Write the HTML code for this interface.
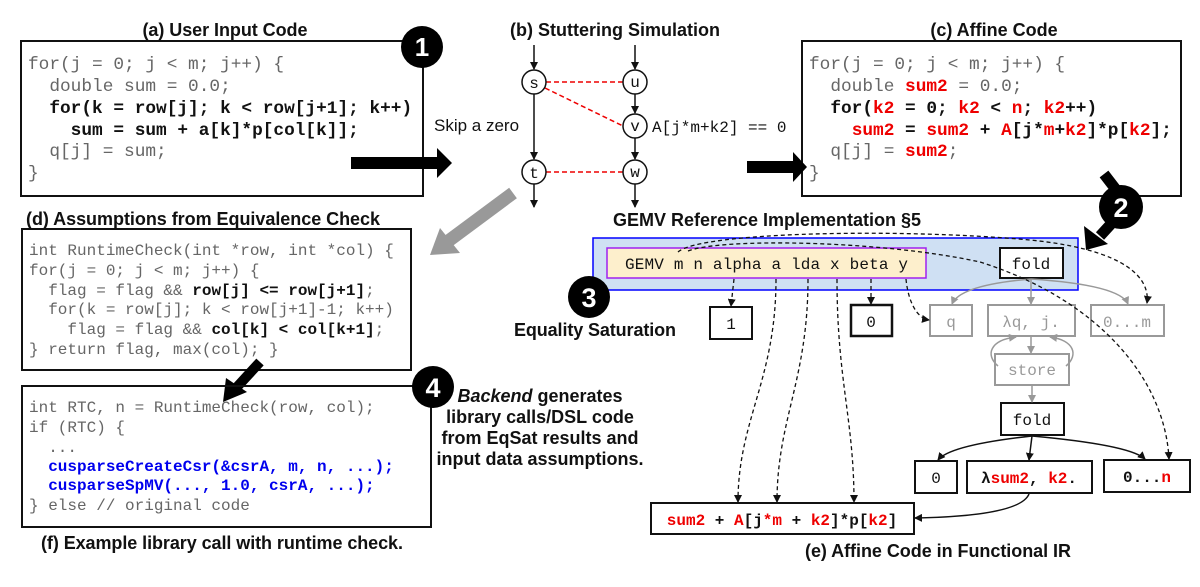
<!DOCTYPE html>
<html><head><meta charset="utf-8"><style>
body{margin:0;background:#fff}
svg{display:block}
text{white-space:pre}
.t{font-family:"Liberation Sans",sans-serif;font-weight:bold;font-size:18px;fill:#111}
.m{font-family:"Liberation Mono",monospace;fill:#666}
.b{fill:#111;font-weight:bold}
.r{fill:#e00;font-weight:bold}
.bl{fill:#00e;font-weight:bold}
.g{fill:#999}
</style></head><body>
<svg width="1200" height="587" viewBox="0 0 1200 587" xmlns="http://www.w3.org/2000/svg">
<defs>
<marker id="ah" markerWidth="8" markerHeight="8" refX="7" refY="4" orient="auto" markerUnits="userSpaceOnUse"><path d="M0,0 L8,4 L0,8 z" fill="#111"/></marker>
<marker id="ag" markerWidth="8" markerHeight="8" refX="7" refY="4" orient="auto" markerUnits="userSpaceOnUse"><path d="M0,0 L8,4 L0,8 z" fill="#999"/></marker>
</defs>

<!-- (a) -->
<text class="t" x="225" y="36" text-anchor="middle" textLength="165">(a) User Input Code</text>
<rect x="21" y="41" width="402" height="155" fill="none" stroke="#111" stroke-width="2"/>
<g class="m" font-size="17.8px">
<text x="28" y="69">for(j = 0; j &lt; m; j++) {</text>
<text x="28" y="91">  double sum = 0.0;</text>
<text x="28" y="113" class="b">  for(k = row[j]; k &lt; row[j+1]; k++)</text>
<text x="28" y="135" class="b">    sum = sum + a[k]*p[col[k]];</text>
<text x="28" y="156">  q[j] = sum;</text>
<text x="28" y="178">}</text>
</g>
<circle cx="422" cy="47" r="21" fill="#000"/>
<text x="422" y="56" text-anchor="middle" font-family="Liberation Sans" font-weight="bold" font-size="26" fill="#fff">1</text>
<polygon points="351,157 437,157 437,148 452,163 437,178 437,169 351,169" fill="#000"/>
<text x="434" y="131" font-family="Liberation Sans" font-size="17" fill="#111">Skip a zero</text>

<!-- (b) -->
<text class="t" x="615" y="36" text-anchor="middle">(b) Stuttering Simulation</text>
<g stroke="#111" stroke-width="1.5" fill="none">
<line x1="534" y1="45" x2="534" y2="69" marker-end="url(#ah)"/>
<line x1="534" y1="94" x2="534" y2="159" marker-end="url(#ah)"/>
<line x1="534" y1="184" x2="534" y2="207" marker-end="url(#ah)"/>
<line x1="635" y1="45" x2="635" y2="69" marker-end="url(#ah)"/>
<line x1="635" y1="94" x2="635" y2="113" marker-end="url(#ah)"/>
<line x1="635" y1="138" x2="635" y2="159" marker-end="url(#ah)"/>
<line x1="635" y1="184" x2="635" y2="207" marker-end="url(#ah)"/>
</g>
<g stroke="#e00" stroke-width="1.5" stroke-dasharray="5,3">
<line x1="546" y1="82" x2="623" y2="82"/>
<line x1="546" y1="172" x2="623" y2="172"/>
<line x1="545" y1="88" x2="623" y2="126"/>
</g>
<g fill="#fff" stroke="#111" stroke-width="1.5">
<circle cx="534" cy="82" r="12"/><circle cx="534" cy="172" r="12"/>
<circle cx="635" cy="82" r="12"/><circle cx="635" cy="126" r="12"/><circle cx="635" cy="172" r="12"/>
</g>
<g font-family="Liberation Mono" font-size="16" fill="#111" text-anchor="middle">
<text x="534" y="88">s</text><text x="534" y="178">t</text><text x="635" y="87">u</text><text x="635" y="131">v</text><text x="635" y="177">w</text>
</g>
<text x="652" y="132" font-family="Liberation Mono" font-size="16" fill="#111">A[j*m+k2] == 0</text>

<!-- (c) -->
<text class="t" x="994" y="36" text-anchor="middle">(c) Affine Code</text>
<rect x="802" y="41" width="379" height="155" fill="none" stroke="#111" stroke-width="2"/>
<polygon points="747,161 793,161 793,152 807,167 793,182 793,173 747,173" fill="#000"/>
<g class="m" font-size="17.8px">
<text x="809" y="69">for(j = 0; j &lt; m; j++) {</text>
<text x="809" y="91">  double <tspan class="r">sum2</tspan> = 0.0;</text>
<text x="809" y="113" class="b">  for(<tspan class="r">k2</tspan> = 0; <tspan class="r">k2</tspan> &lt; <tspan class="r">n</tspan>; <tspan class="r">k2</tspan>++)</text>
<text x="809" y="135" class="b">    <tspan class="r">sum2</tspan> = <tspan class="r">sum2</tspan> + <tspan class="r">A</tspan>[j*<tspan class="r">m</tspan>+<tspan class="r">k2</tspan>]*p[<tspan class="r">k2</tspan>];</text>
<text x="809" y="156">  q[j] = <tspan class="r">sum2</tspan>;</text>
<text x="809" y="178">}</text>
</g>
<!-- arrow 2 -->
<line x1="1104" y1="174" x2="1124" y2="200" stroke="#000" stroke-width="11"/>
<line x1="1122" y1="212" x2="1100" y2="236" stroke="#000" stroke-width="11"/>
<polygon points="1084,226 1108,244 1086,250" fill="#000"/>
<circle cx="1121" cy="207" r="22" fill="#000"/>
<text x="1121" y="217" text-anchor="middle" font-family="Liberation Sans" font-weight="bold" font-size="27" fill="#fff">2</text>

<!-- GEMV -->
<text class="t" x="613" y="226" font-size="19" textLength="308">GEMV Reference Implementation §5</text>
<rect x="593" y="238" width="485" height="52" fill="#cfe0f3" stroke="#00f" stroke-width="1.5"/>
<rect x="607" y="248" width="319" height="30" fill="#fdefcc" stroke="#a020f0" stroke-width="1.5"/>
<text x="625" y="269" font-family="Liberation Mono" font-size="16" fill="#111" textLength="283">GEMV m n alpha a lda x beta y</text>
<rect x="1000" y="248" width="63" height="30" fill="#fff" stroke="#111" stroke-width="2"/>
<text x="1031" y="269" text-anchor="middle" font-family="Liberation Mono" font-size="16" fill="#111">fold</text>

<!-- gray arrow -->
<line x1="513" y1="193" x2="447" y2="242" stroke="#999" stroke-width="13"/>
<polygon points="430,255 440,228 460,253" fill="#999"/>

<!-- circle 3 -->
<circle cx="589" cy="297" r="21" fill="#000"/>
<text x="589" y="307" text-anchor="middle" font-family="Liberation Sans" font-weight="bold" font-size="27" fill="#fff">3</text>
<text class="t" x="595" y="336" text-anchor="middle" textLength="162">Equality Saturation</text>

<!-- boxes -->
<g font-family="Liberation Mono" font-size="16" text-anchor="middle">
<rect x="710" y="307" width="42" height="32" fill="#fff" stroke="#111" stroke-width="2"/><text x="731" y="329" fill="#111">1</text>
<rect x="851" y="305" width="41" height="31" fill="#fff" stroke="#111" stroke-width="2.5"/><text x="871" y="327" fill="#111">0</text>
<g stroke="#999" stroke-width="2" fill="#fff">
<rect x="930" y="305" width="42" height="31"/>
<rect x="988" y="305" width="87" height="31"/>
<rect x="1091" y="305" width="73" height="31"/>
<rect x="995" y="354" width="74" height="31"/>
</g>
<text x="951" y="327" class="g">q</text><text x="1031" y="327" class="g">λq, j.</text><text x="1127" y="327" class="g">0...m</text>
<text x="1032" y="375" class="g">store</text>
<rect x="1001" y="403" width="63" height="32" fill="#fff" stroke="#111" stroke-width="2"/><text x="1032" y="425" fill="#111">fold</text>
<rect x="915" y="461" width="42" height="32" fill="#fff" stroke="#111" stroke-width="2"/><text x="936" y="483" fill="#111">0</text>
<rect x="967" y="461" width="125" height="32" fill="#fff" stroke="#111" stroke-width="2"/><text x="1029" y="483" fill="#111" font-weight="bold">λ<tspan fill="#e00">sum2</tspan>, <tspan fill="#e00">k2</tspan>.</text>
<rect x="1104" y="460" width="86" height="32" fill="#fff" stroke="#111" stroke-width="2"/><text x="1147" y="482" fill="#111" font-weight="bold">0...<tspan fill="#e00">n</tspan></text>
<rect x="651" y="503" width="263" height="31" fill="#fff" stroke="#111" stroke-width="2"/>
<text x="782" y="525" fill="#111" font-weight="bold"><tspan fill="#e00">sum2</tspan> + <tspan fill="#e00">A</tspan>[j<tspan fill="#e00">*m</tspan> + <tspan fill="#e00">k2</tspan>]*p[<tspan fill="#e00">k2</tspan>]</text>
</g>
<text class="t" x="938" y="557" text-anchor="middle" textLength="266">(e) Affine Code in Functional IR</text>

<!-- gray connectors -->
<g stroke="#999" stroke-width="1.5" fill="none">
<path d="M1031,279 Q960,285 952,304" marker-end="url(#ag)"/>
<line x1="1031" y1="279" x2="1031" y2="304" marker-end="url(#ag)"/>
<path d="M1031,279 Q1120,285 1128,304" marker-end="url(#ag)"/>
<line x1="1031" y1="337" x2="1031" y2="353" marker-end="url(#ag)"/>
<path d="M998,366 C985,355 990,340 1016,337" marker-end="url(#ag)"/>
<path d="M1066,366 C1079,355 1074,340 1050,337" marker-end="url(#ag)"/>
<line x1="1032" y1="386" x2="1032" y2="402" marker-end="url(#ag)"/>
</g>
<!-- black connectors -->
<g stroke="#111" stroke-width="1.5" fill="none">
<path d="M1032,436 Q950,445 938,460" marker-end="url(#ah)"/>
<line x1="1032" y1="436" x2="1029" y2="460" marker-end="url(#ah)"/>
<path d="M1032,436 Q1130,445 1145,459" marker-end="url(#ah)"/>
<path d="M1029,494 Q1020,516 915,518" marker-end="url(#ah)"/>
</g>
<!-- dashed connectors -->
<g stroke="#111" stroke-width="1.3" fill="none" stroke-dasharray="4,3">
<line x1="734" y1="279" x2="731" y2="306" marker-end="url(#ah)"/>
<line x1="871" y1="279" x2="871" y2="304" marker-end="url(#ah)"/>
<path d="M776,279 C776,380 738,420 738,502" marker-end="url(#ah)"/>
<path d="M808,279 C808,380 777,420 777,502" marker-end="url(#ah)"/>
<path d="M837,279 C837,380 854,420 854,502" marker-end="url(#ah)"/>
<path d="M906,279 C908,300 916,318 929,320" marker-end="url(#ah)"/>
<path d="M678,252 C700,232 900,228 1030,240 C1130,250 1150,280 1147,303" marker-end="url(#ah)"/>
<path d="M688,251 C720,238 880,240 980,262 C1100,300 1165,380 1169,459" marker-end="url(#ah)"/>
</g>

<!-- (d) -->
<text class="t" x="26" y="225" textLength="354">(d) Assumptions from Equivalence Check</text>
<rect x="22" y="229" width="389" height="141" fill="none" stroke="#111" stroke-width="2"/>
<g class="m" font-size="16px">
<text x="29" y="255">int RuntimeCheck(int *row, int *col) {</text>
<text x="29" y="275">for(j = 0; j &lt; m; j++) {</text>
<text x="29" y="295">  flag = flag &amp;&amp; <tspan class="b">row[j] &lt;= row[j+1]</tspan>;</text>
<text x="29" y="314">  for(k = row[j]; k &lt; row[j+1]-1; k++)</text>
<text x="29" y="334">    flag = flag &amp;&amp; <tspan class="b">col[k] &lt; col[k+1]</tspan>;</text>
<text x="29" y="354">} return flag, max(col); }</text>
</g>
<line x1="260" y1="362" x2="237" y2="387" stroke="#000" stroke-width="10"/>
<polygon points="223,402 226,378 247,392" fill="#000"/>

<!-- (f) -->
<rect x="22" y="386" width="409" height="141" fill="none" stroke="#111" stroke-width="2"/>
<g class="m" font-size="16px">
<text x="29" y="412">int RTC, n = RuntimeCheck(row, col);</text>
<text x="29" y="432">if (RTC) {</text>
<text x="29" y="452">  ...</text>
<text x="29" y="471" class="bl">  cusparseCreateCsr(&amp;csrA, m, n, ...);</text>
<text x="29" y="490" class="bl">  cusparseSpMV(..., 1.0, csrA, ...);</text>
<text x="29" y="510">} else // original code</text>
</g>
<text class="t" x="222" y="549" text-anchor="middle" textLength="362">(f) Example library call with runtime check.</text>
<circle cx="433" cy="387" r="21" fill="#000"/>
<text x="433" y="397" text-anchor="middle" font-family="Liberation Sans" font-weight="bold" font-size="27" fill="#fff">4</text>
<g class="t" text-anchor="middle">
<text x="540" y="402"><tspan font-style="italic">Backend</tspan> generates</text>
<text x="540" y="423">library calls/DSL code</text>
<text x="540" y="444">from EqSat results and</text>
<text x="540" y="465">input data assumptions.</text>
</g>
</svg>
</body></html>
